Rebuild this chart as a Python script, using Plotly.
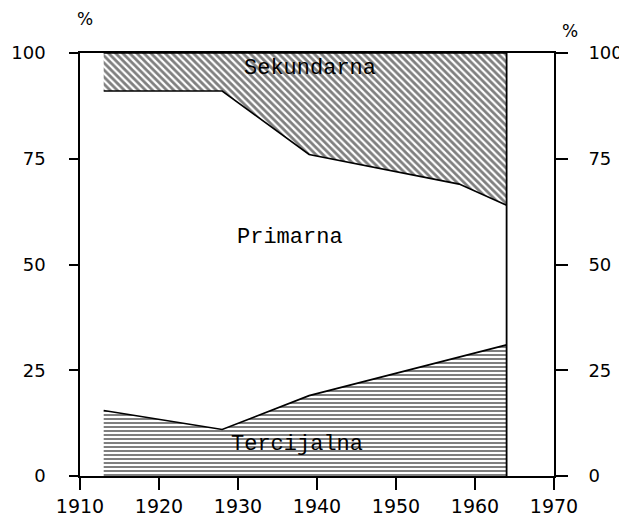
import plotly.graph_objects as go

# Data (shares in %)
years = [1913, 1928, 1939, 1958, 1964]
tercijalna = [15.5, 11, 19, 28, 31]
primarna = [75.5, 80, 57, 41, 33]
sekundarna = [9, 9, 24, 31, 36]

x_ticks = [1910, 1920, 1930, 1940, 1950, 1960, 1970]
y_ticks = [0, 25, 50, 75, 100]

FONT_HAND = "DejaVu Sans"
FONT_TYPE = "Liberation Mono"

fig = go.Figure()

fig.add_trace(go.Scatter(
    x=years, y=tercijalna, stackgroup="s", mode="lines",
    line=dict(color="black", width=1.6),
    fillcolor="white",
    fillpattern=dict(shape="-", size=4, solidity=0.5, fgcolor="black", bgcolor="white"),
    name="Tercijalna", showlegend=False, hoverinfo="skip"))
fig.add_trace(go.Scatter(
    x=years, y=primarna, stackgroup="s", mode="lines",
    line=dict(color="black", width=1.6),
    fillcolor="white",
    name="Primarna", showlegend=False, hoverinfo="skip"))
fig.add_trace(go.Scatter(
    x=years, y=sekundarna, stackgroup="s", mode="lines",
    line=dict(color="black", width=1.6),
    fillcolor="white",
    fillpattern=dict(shape="\\", size=5, solidity=0.55, fgcolor="black", bgcolor="white"),
    name="Sekundarna", showlegend=False, hoverinfo="skip"))

# right edge of the stacked areas
fig.add_trace(go.Scatter(
    x=[years[-1], years[-1]], y=[0, 100], mode="lines",
    line=dict(color="black", width=1.8), showlegend=False, hoverinfo="skip"))

# dummy trace for the right axis
fig.add_trace(go.Scatter(x=[years[0]], y=[0], yaxis="y2", mode="markers",
                         marker=dict(opacity=0), showlegend=False, hoverinfo="skip"))

label_font = dict(family=FONT_TYPE, size=22, color="black")
fig.add_annotation(x=1939.1, y=96.3, text="Sekundarna", showarrow=False, font=label_font)
fig.add_annotation(x=1936.6, y=56.3, text="Primarna", showarrow=False, font=label_font)
fig.add_annotation(x=1937.5, y=7.5, text="Tercijalna", showarrow=False, font=label_font)

fig.add_annotation(x=0, xref="paper", y=1, yref="paper", text="%", showarrow=False,
                   xanchor="center", yanchor="middle", yshift=34, xshift=5,
                   font=dict(family=FONT_HAND, size=17, color="black"))
fig.add_annotation(x=1, xref="paper", y=1, yref="paper", text="%", showarrow=False,
                   xanchor="center", yanchor="middle", yshift=22, xshift=16,
                   font=dict(family=FONT_HAND, size=17, color="black"))

axis_font = dict(family=FONT_HAND, size=18, color="black")
x_font = dict(family=FONT_HAND, size=19, color="black")

# the page body has an 8 px margin, so the figure is sized to fit the window
fig.update_layout(
    width=619, height=518,
    margin=dict(l=72, r=73, t=45, b=50),
    paper_bgcolor="white", plot_bgcolor="white",
    xaxis=dict(range=[1910, 1970], tickvals=x_ticks, ticktext=[str(v) for v in x_ticks],
               showgrid=False, zeroline=False, showline=True, linecolor="black", linewidth=1.6,
               mirror=True, ticks="outside", ticklen=12, tickcolor="black", tickwidth=1.5,
               tickfont=x_font, automargin=False),
    yaxis=dict(range=[0, 100], tickvals=y_ticks, showgrid=False, zeroline=False,
               showline=True, linecolor="black", linewidth=1.6,
               ticks="outside", ticklen=9, tickcolor="black", tickwidth=1.5, tickfont=axis_font,
               ticklabelstandoff=20, automargin=False),
    yaxis2=dict(range=[0, 100], tickvals=y_ticks, overlaying="y", side="right",
                showgrid=False, zeroline=False, showline=True, linecolor="black", linewidth=1.6,
                ticks="outside", ticklen=12, tickcolor="black", tickwidth=1.5, tickfont=axis_font,
                ticklabelstandoff=17, automargin=False),
)

fig.write_html("out.html")
